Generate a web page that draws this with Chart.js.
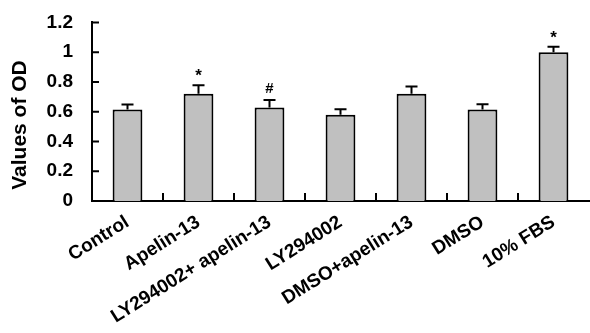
<!DOCTYPE html>
<html>
<head>
<meta charset="utf-8">
<script src="https://cdn.jsdelivr.net/npm/chart.js@4/dist/chart.umd.min.js"></script>
<style>
  html, body { margin: 0; padding: 0; background: #fff; }
  #wrap { width: 590px; height: 333px; }
</style>
</head>
<body>
<div id="wrap"><canvas id="odChart"></canvas></div>
<script>
// data
const groups = ["Control", "Apelin-13", "LY294002+ apelin-13", "LY294002", "DMSO+apelin-13", "DMSO", "10% FBS"];
const odValues = [0.615, 0.72, 0.628, 0.58, 0.72, 0.615, 1.0];
const odErrors = [0.033, 0.058, 0.05, 0.036, 0.05, 0.035, 0.036];
const marks = ["", "*", "#", "", "", "", "*"];
const yTicks = [0, 0.2, 0.4, 0.6, 0.8, 1, 1.2];

const FONT = "'Liberation Sans', Arial, sans-serif";

// error bars, significance marks, inward ticks and the y title
const extras = {
  id: 'extras',
  afterDatasetsDraw(chart) {
    const ctx = chart.ctx;
    const x = chart.scales.x, y = chart.scales.y;
    const bars = chart.getDatasetMeta(0).data;
    ctx.save();
    ctx.strokeStyle = '#000';
    ctx.lineWidth = 2;
    bars.forEach((bar, i) => {
      const top = y.getPixelForValue(odValues[i]);
      const cap = y.getPixelForValue(odValues[i] + odErrors[i]);
      ctx.beginPath();
      ctx.moveTo(bar.x, top);
      ctx.lineTo(bar.x, cap);
      ctx.moveTo(bar.x - 6, cap);
      ctx.lineTo(bar.x + 6, cap);
      ctx.stroke();
      if (marks[i]) {
        ctx.fillStyle = '#000';
        ctx.font = (marks[i] === '*' ? "bold 17px " : "bold 15px ") + FONT;
        ctx.textAlign = 'center';
        ctx.textBaseline = 'bottom';
        ctx.fillText(marks[i], bar.x, cap - (marks[i] === '*' ? 0 : 4));
      }
    });

    // ticks pointing into the plot
    const area = chart.chartArea;
    ctx.beginPath();
    yTicks.forEach(v => {
      const py = y.getPixelForValue(v);
      ctx.moveTo(area.left, py);
      ctx.lineTo(area.left + 7, py);
    });
    for (let i = 1; i < groups.length; i++) {
      const px = (x.getPixelForValue(i - 1) + x.getPixelForValue(i)) / 2;
      ctx.moveTo(px, area.bottom);
      ctx.lineTo(px, area.bottom - 8);
    }
    ctx.stroke();

    // axis title
    ctx.translate(20, 125);
    ctx.rotate(-Math.PI / 2);
    ctx.fillStyle = '#000';
    ctx.font = "bold 21px " + FONT;
    ctx.textAlign = 'center';
    ctx.textBaseline = 'middle';
    ctx.fillText('Values of OD', 0, 0);
    ctx.restore();
  }
};

new Chart(document.getElementById('odChart'), {
  type: 'bar',
  data: {
    labels: groups,
    datasets: [{
      data: odValues,
      backgroundColor: '#c0c0c0',
      borderColor: '#000',
      borderWidth: 2,
      borderSkipped: 'bottom',
      barPercentage: 0.42,
      categoryPercentage: 1
    }]
  },
  options: {
    responsive: true,
    maintainAspectRatio: false,
    animation: false,
    layout: { padding: { top: 22, right: 1, left: 0, bottom: 0 } },
    plugins: { legend: { display: false }, tooltip: { enabled: false } },
    scales: {
      x: {
        offset: true,
        grid: { display: false },
        border: { color: '#000', width: 2 },
        ticks: {
          color: '#000',
          font: { family: FONT, size: 19, weight: 'bold' },
          minRotation: 32,
          maxRotation: 32,
          padding: 2,
          autoSkip: false
        },
        afterFit(scale) { scale.height = 132; }
      },
      y: {
        min: 0,
        max: 1.2,
        afterBuildTicks(scale) { scale.ticks = yTicks.map(v => ({ value: v })); },
        grid: { display: false },
        border: { color: '#000', width: 2 },
        ticks: {
          color: '#000',
          font: { family: FONT, size: 19, weight: 'bold' },
          padding: 11,
          callback: v => String(v)
        },
        afterFit(scale) { scale.width = 92; }
      }
    }
  },
  plugins: [extras]
});
</script>
</body>
</html>
